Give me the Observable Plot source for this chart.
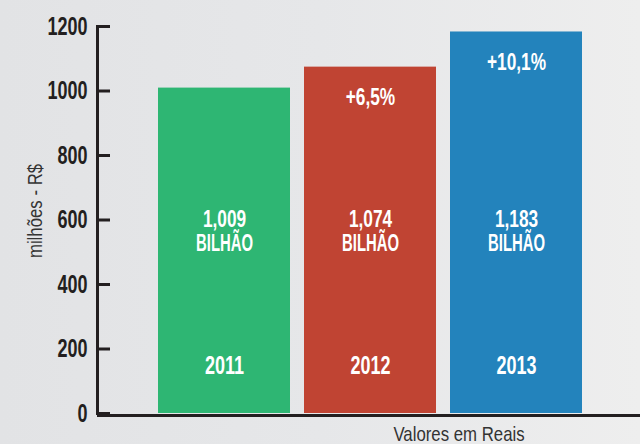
<!DOCTYPE html>
<html>
<head>
<meta charset="utf-8">
<script src="https://cdn.jsdelivr.net/npm/d3@7"></script>
<script src="https://cdn.jsdelivr.net/npm/@observablehq/plot@0.6"></script>
<style>
  html, body { margin: 0; padding: 0; }
  body { width: 640px; height: 444px; overflow: hidden;
    background: linear-gradient(to right, #e2e3e5 0%, #e6e7e9 50%, #eeeeee 100%); }
  #chart svg { display: block; background: transparent; }
</style>
</head>
<body>
<div id="chart"></div>
<script>
const years = ["2011", "2012", "2013"];
const values = [1009, 1074, 1183];
const amountLabels = ["1,009", "1,074", "1,183"];
const unitLabel = "BILHÃO";
const growthLabels = ["", "+6,5%", "+10,1%"];
const colors = ["#2eb673", "#c04433", "#2383bc"];
const yTicks = [0, 200, 400, 600, 800, 1000, 1200];
const yLabel = "milhões - R$";
const footLabel = "Valores em Reais";

const data = years.map((y, i) => ({
  year: y, value: values[i], amount: amountLabels[i], growth: growthLabels[i], color: colors[i]
}));

const font = "'Liberation Sans', Arial, sans-serif";
const ink = "#231f20";

const chart = Plot.plot({
  width: 640,
  height: 444,
  marginLeft: 97,
  marginRight: 0,
  marginTop: 26,
  marginBottom: 31,
  style: { background: "transparent", fontFamily: font },
  x: { type: "band", domain: years, range: [150, 591], paddingInner: 0.095, paddingOuter: 0.0476, axis: null },
  y: { domain: [0, 1200], axis: null },
  marks: [
    Plot.barY(data, { x: "year", y: "value", fill: "color" }),
    Plot.axisY(yTicks, { tickSize: 13, dx: 13, strokeWidth: 3, stroke: ink, text: null, label: null }),
    Plot.axisY(yTicks, { tickSize: 0, tickPadding: 10, tickFormat: d => String(d), fontSize: 25, fontWeight: "bold", fill: ink, label: null, fontFamily: font, ariaDescription: "sq-bold" }),
    Plot.frame({ anchor: "left", stroke: ink, strokeWidth: 3 }),
    Plot.ruleY([0], { stroke: ink, strokeWidth: 3, dy: 2 }),
    Plot.text(data, { x: "year", text: "amount", frameAnchor: "middle", dy: -1, fill: "white", fontSize: 24, fontWeight: "bold", fontFamily: font, ariaDescription: "sq-bold" }),
    Plot.text(data, { x: "year", text: () => unitLabel, frameAnchor: "middle", dy: 23, fill: "white", fontSize: 24, fontWeight: "bold", fontFamily: font, ariaDescription: "sq-unit" }),
    Plot.text(data, { x: "year", text: "year", frameAnchor: "bottom", lineAnchor: "middle", dy: -48, fill: "white", fontSize: 25, fontWeight: "bold", fontFamily: font, ariaDescription: "sq-bold" }),
    Plot.text(data, { x: "year", y: "value", text: "growth", dy: 30, fill: "white", fontSize: 24, fontWeight: "bold", fontFamily: font, ariaDescription: "sq-bold" }),
    Plot.text([yLabel], { text: d => d, frameAnchor: "left", textAnchor: "middle", rotate: -90, dx: -62, dy: -9, fill: "#333", fontSize: 20, fontFamily: font, ariaDescription: "sq-reg" }),
    Plot.text([footLabel], { text: d => d, frameAnchor: "bottom", lineAnchor: "middle", dx: 90, dy: 21, fill: "#333", fontSize: 20, fontFamily: font, ariaDescription: "sq-reg" })
  ]
});

// condense glyphs horizontally (no condensed font installed)
const squeeze = { "sq-bold": 0.72, "sq-unit": 0.62, "sq-reg": 0.84 };
chart.querySelectorAll("g[aria-description]").forEach(g => {
  const s = squeeze[g.getAttribute("aria-description")];
  if (!s) return;
  g.querySelectorAll("text").forEach(t => {
    const tr = t.getAttribute("transform") || "";
    t.setAttribute("transform", (tr + ` scale(${s},1)`).trim());
  });
});
document.getElementById("chart").appendChild(chart);
</script>
</body>
</html>
